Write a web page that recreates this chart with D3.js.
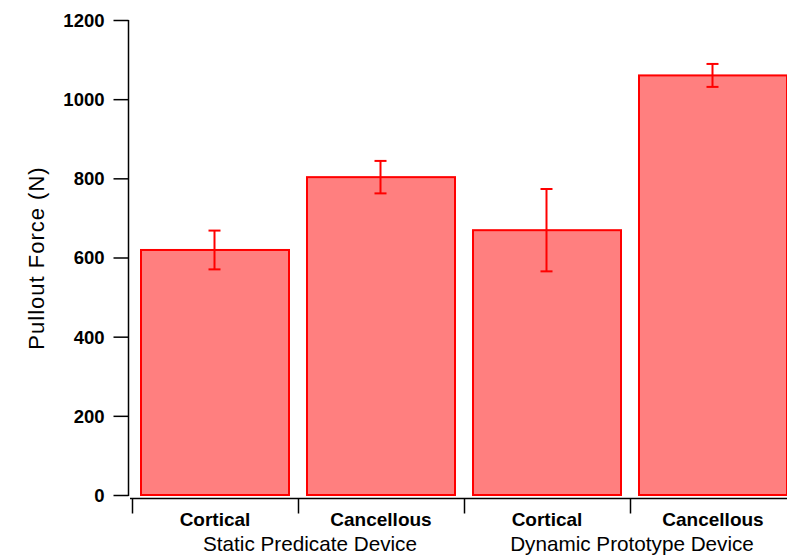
<!DOCTYPE html>
<html><head><meta charset="utf-8">
<script src="https://cdn.jsdelivr.net/npm/d3@7"></script>
<style>body{margin:0;background:#fff}svg{display:block}text{font-family:"Liberation Sans",Arial,sans-serif}</style>
</head><body><svg id="c" width="787" height="557"></svg>
<script>
const categories = ["Cortical","Cancellous","Cortical","Cancellous"];
const groups = ["Static Predicate Device","Dynamic Prototype Device"];
const values = [619, 803, 669, 1060];
const errors = [49, 41, 104, 29];
const yTicks = [0,200,400,600,800,1000,1200];

const svg = d3.select("#c");
const x = d3.scaleBand().domain(d3.range(categories.length)).range([132, 796]).paddingInner(0).paddingOuter(0);
const y = d3.scaleLinear().domain([0,1200]).range([495, 20]);
const pad = 9;

// bars
svg.append("g").selectAll("rect").data(values).join("rect")
  .attr("x", (d,i)=>x(i)+pad)
  .attr("width", x.bandwidth()-2*pad)
  .attr("y", d=>y(d))
  .attr("height", d=>y(0)-y(d))
  .attr("fill","#ff7f7f").attr("stroke","#ff0000").attr("stroke-width",2);

// error bars
const eg = svg.append("g").attr("stroke","#ff0000").attr("stroke-width",2);
values.forEach((v,i)=>{
  const cx = Math.round(x(i)+x.bandwidth()/2)-0.5;
  eg.append("line").attr("x1",cx).attr("x2",cx).attr("y1",y(v+errors[i])).attr("y2",y(v-errors[i]));
  eg.append("line").attr("x1",cx-6).attr("x2",cx+6).attr("y1",y(v+errors[i])).attr("y2",y(v+errors[i]));
  eg.append("line").attr("x1",cx-6).attr("x2",cx+6).attr("y1",y(v-errors[i])).attr("y2",y(v-errors[i]));
});

// y axis
const ya = svg.append("g").attr("transform","translate(128.5,0)")
  .call(d3.axisLeft(y).tickValues(yTicks).tickSize(15).tickPadding(9).tickFormat(d3.format("d")));
ya.select(".domain").attr("d","M0,20V496").attr("stroke","#000").attr("stroke-width",1.5);
ya.selectAll(".tick line").attr("stroke","#000").attr("stroke-width",1.5);
ya.selectAll(".tick text").attr("font-size",18.5).attr("font-weight","bold").attr("fill","#000")
  .attr("font-family","Liberation Sans, Arial, sans-serif").attr("dy","0.35em");

// x axis
const xa = svg.append("g").attr("transform","translate(0,498.5)");
xa.append("line").attr("x1",130).attr("x2",787).attr("y1",0).attr("y2",0).attr("stroke","#000").attr("stroke-width",1.5);
d3.range(categories.length+1).forEach(i=>{
  const tx = Math.round(132 + i*x.bandwidth())+0.5;
  xa.append("line").attr("x1",tx).attr("x2",tx).attr("y1",0).attr("y2",15).attr("stroke","#000").attr("stroke-width",1.5);
});
svg.append("g").selectAll("text").data(categories).join("text")
  .attr("x",(d,i)=>x(i)+x.bandwidth()/2)
  .attr("y",526).attr("text-anchor","middle")
  .attr("font-size",19).attr("font-weight","bold").attr("fill","#000")
  .text(d=>d);
const groupShift = [12, 2];
svg.append("g").selectAll("text").data(groups).join("text")
  .attr("x",(d,i)=>x(i*2)+x.bandwidth()+groupShift[i])
  .attr("y",551).attr("text-anchor","middle")
  .attr("font-size",20.7).attr("fill","#000")
  .text(d=>d);

// y title
svg.append("text").attr("transform","translate(44,258) rotate(-90)")
  .attr("text-anchor","middle").attr("font-size",22).attr("letter-spacing",1).attr("fill","#000")
  .text("Pullout Force (N)");
</script></body></html>
